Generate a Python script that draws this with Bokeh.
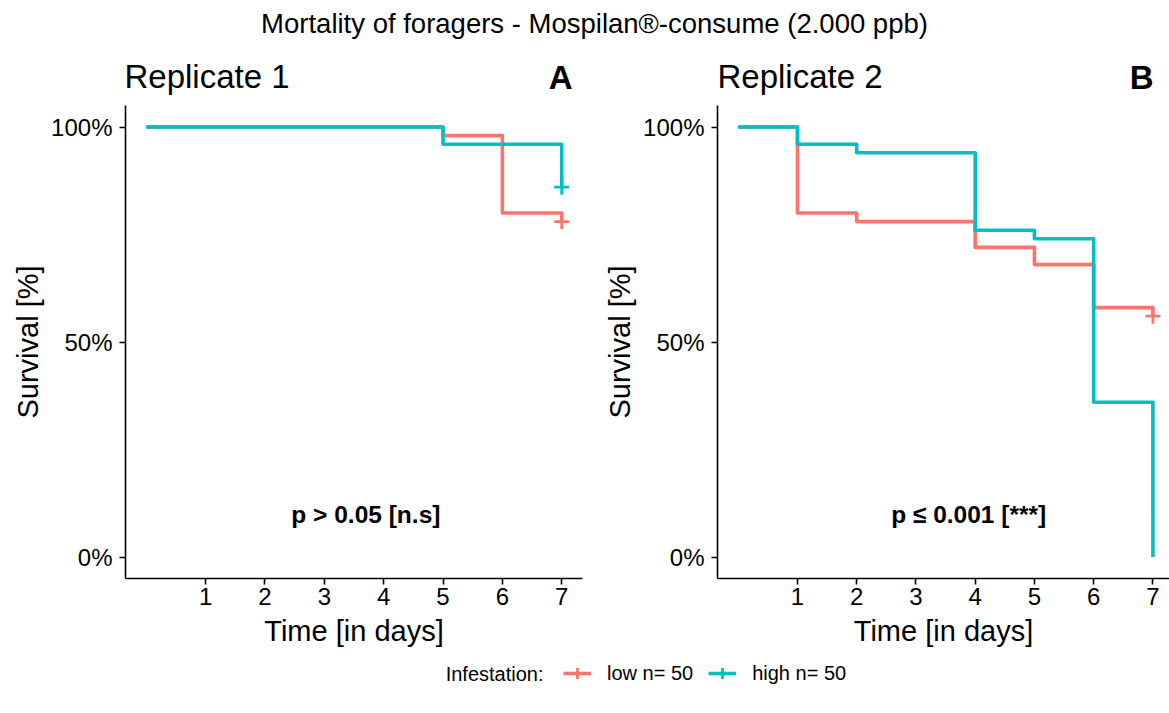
from bokeh.plotting import figure
from bokeh.layouts import column, row
from bokeh.models import Range1d, FixedTicker, NumeralTickFormatter, Legend, LegendItem
from bokeh.core.properties import value
from bokeh.embed import file_html
from bokeh.resources import INLINE

FONT = "Liberation Sans"
RED = "#F8766D"
CYAN = "#00BFC4"

# ---------------- data ----------------
main_title = "Mortality of foragers - Mospilan®-consume (2.000 ppb)"
panel_titles = ["Replicate 1", "Replicate 2"]
panel_tags = ["A", "B"]
p_texts = ["p > 0.05 [n.s]", "p ≤ 0.001 [***]"]
group_labels = ["low n= 50", "high n= 50"]
legend_title = "Infestation:"
x_ticks = [1, 2, 3, 4, 5, 6, 7]
y_ticks = [0.0, 0.5, 1.0]

rep1_low_time = [0, 5, 6, 7]
rep1_low_surv = [1.00, 0.98, 0.80, 0.78]
rep1_high_time = [0, 5, 7]
rep1_high_surv = [1.00, 0.96, 0.86]
rep1_low_censor_time = [7]
rep1_low_censor_surv = [0.78]
rep1_high_censor_time = [7]
rep1_high_censor_surv = [0.86]

rep2_low_time = [0, 1, 2, 4, 5, 6, 7]
rep2_low_surv = [1.00, 0.80, 0.78, 0.72, 0.68, 0.58, 0.56]
rep2_high_time = [0, 1, 2, 4, 5, 6, 7]
rep2_high_surv = [1.00, 0.96, 0.94, 0.76, 0.74, 0.36, 0.00]
rep2_low_censor_time = [7]
rep2_low_censor_surv = [0.56]
rep2_high_censor_time = []
rep2_high_censor_surv = []


def style_axes(p):
    p.xaxis.ticker = FixedTicker(ticks=x_ticks)
    p.yaxis.ticker = FixedTicker(ticks=y_ticks)
    p.yaxis.formatter = NumeralTickFormatter(format="0%")
    p.xaxis.axis_label = "Time [in days]"
    p.yaxis.axis_label = "Survival [%]"
    for ax in (p.xaxis, p.yaxis):
        ax.axis_line_color = "black"
        ax.axis_line_width = 1.6
        ax.major_tick_line_color = "black"
        ax.major_tick_line_width = 1.6
        ax.major_tick_out = 6
        ax.major_tick_in = 0
        ax.minor_tick_line_color = None
        ax.major_label_text_font = FONT
        ax.major_label_text_font_size = "24px"
        ax.major_label_text_color = "black"
        ax.axis_label_text_font = FONT
        ax.axis_label_text_font_size = "29px"
        ax.axis_label_text_font_style = "normal"
        ax.axis_label_text_color = "black"
    p.xaxis.major_label_standoff = 3
    p.xaxis.axis_label_standoff = 7
    p.yaxis.major_label_standoff = 7
    p.yaxis.axis_label_standoff = 4
    p.grid.visible = False
    p.outline_line_color = None


def make_panel(width, border_left, border_right, x_end,
               low_t, low_s, high_t, high_s,
               lc_t, lc_s, hc_t, hc_s, ptext, ptx):
    p = figure(width=width, height=550, title=None,
               x_range=Range1d(-0.35, x_end), y_range=Range1d(-0.05, 1.05),
               toolbar_location=None, output_backend="svg",
               min_border_left=border_left, min_border_right=border_right,
               min_border_top=5, min_border_bottom=72)
    style_axes(p)
    p.step(x=low_t, y=low_s, mode="after", line_color=RED, line_width=3.6, line_join="round")
    p.step(x=high_t, y=high_s, mode="after", line_color=CYAN, line_width=3.6, line_join="round")
    if lc_t:
        p.scatter(x=lc_t, y=lc_s, marker="cross", size=15, line_color=RED, line_width=2.8)
    if hc_t:
        p.scatter(x=hc_t, y=hc_s, marker="cross", size=15, line_color=CYAN, line_width=2.8)
    p.text(x=[ptx], y=[0.1], text=[ptext], text_font=value(FONT),
           text_font_size=value("24.5px"), text_font_style="bold",
           text_align="center", text_baseline="middle", text_color="black")
    return p


p1 = make_panel(590, 125, 8, 7.35,
                rep1_low_time, rep1_low_surv, rep1_high_time, rep1_high_surv,
                rep1_low_censor_time, rep1_low_censor_surv,
                rep1_high_censor_time, rep1_high_censor_surv, p_texts[0], 3.7)
p2 = make_panel(579, 127, 0, 7.28,
                rep2_low_time, rep2_low_surv, rep2_high_time, rep2_high_surv,
                rep2_low_censor_time, rep2_low_censor_surv,
                rep2_high_censor_time, rep2_high_censor_surv, p_texts[1], 3.89)

# ---------------- top strip: titles ----------------
top = figure(width=1169, height=100, title=None,
             x_range=Range1d(0, 1169), y_range=Range1d(100, 0),
             x_axis_type=None, y_axis_type=None, toolbar_location=None,
             output_backend="svg", min_border=0)
top.grid.visible = False
top.outline_line_color = None
top.text(x=[594], y=[23], text=[main_title], text_font=value(FONT),
         text_font_size=value("27.5px"), text_align="center", text_baseline="middle",
         text_color="black")
top.text(x=[124, 717], y=[76, 76], text=panel_titles, text_font=value(FONT),
         text_font_size=value("33px"), text_align="left", text_baseline="middle",
         text_color="black")
top.text(x=[572, 1153], y=[77, 77], text=panel_tags, text_font=value(FONT),
         text_font_size=value("33px"), text_font_style="bold", text_align="right",
         text_baseline="middle", text_color="black")

# ---------------- bottom strip: legend ----------------
leg = figure(width=1169, height=46, title=None,
             x_range=Range1d(0, 1169), y_range=Range1d(46, 0),
             x_axis_type=None, y_axis_type=None, toolbar_location=None,
             output_backend="svg", min_border=0)
leg.grid.visible = False
leg.outline_line_color = None
items = []
for col, lab in zip([RED, CYAN], group_labels):
    # off-canvas proxy renderers, only used to draw the legend keys
    l = leg.line(x=[-1000, -999], y=[-1000, -1000], line_color=col, line_width=3.6)
    s = leg.scatter(x=[-1000], y=[-1000], marker="cross", size=15, line_color=col, line_width=2.8)
    items.append(LegendItem(label=lab, renderers=[l, s]))

legend = Legend(items=items, orientation="horizontal", location=(563, 6),
                border_line_color=None, background_fill_alpha=0,
                padding=0, margin=0, spacing=15, label_standoff=16,
                glyph_width=28, glyph_height=34,
                label_text_font=FONT, label_text_font_size="20px",
                label_text_color="black")
leg.add_layout(legend, "center")
leg.text(x=[543], y=[23], text=[legend_title], text_font=value(FONT),
         text_font_size=value("20px"), text_align="right", text_baseline="middle",
         text_color="black")

layout = column(top, row(p1, p2), leg)
open("out.html", "w", encoding="utf-8").write(file_html(layout, INLINE))
